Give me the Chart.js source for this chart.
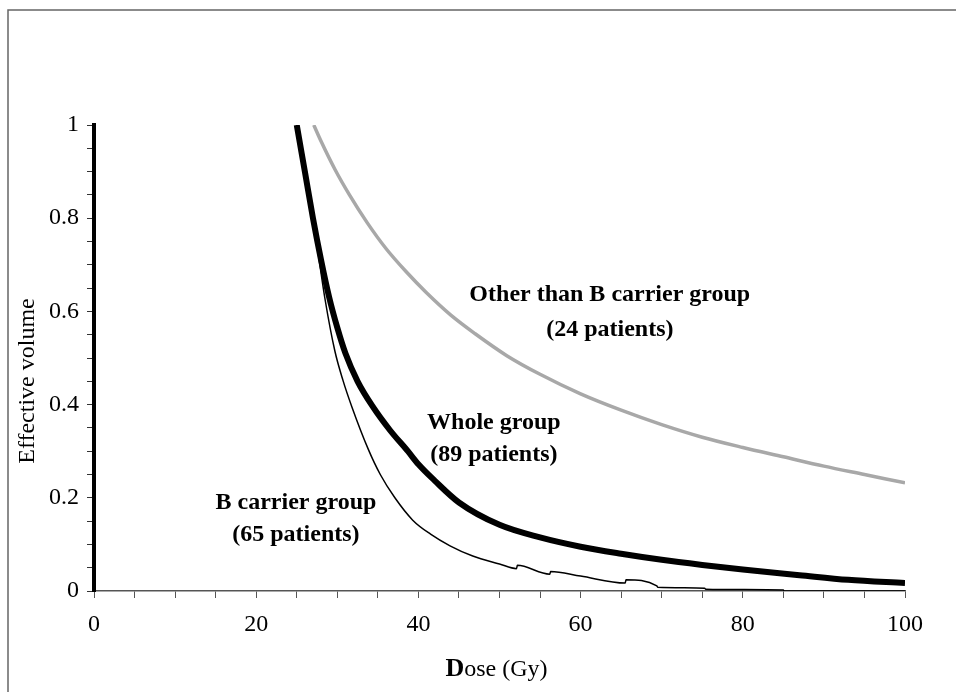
<!DOCTYPE html>
<html><head><meta charset="utf-8">
<script src="https://cdn.jsdelivr.net/npm/chart.js@4.4.1/dist/chart.umd.min.js"></script>
<style>html,body{margin:0;padding:0;background:#fff}canvas{display:block}</style>
</head><body>
<canvas id="c" width="956" height="692"></canvas>
<script>
// ---- data ----
const wholeDose = [25, 26, 27, 28, 29, 30, 31, 32.5, 34.4, 36.5, 38.7, 40, 42, 45, 50, 55, 60, 65, 70, 75, 80, 87, 93, 100];
const wholeVol  = [1.0, 0.90, 0.80, 0.71, 0.63, 0.565, 0.51, 0.45, 0.395, 0.345, 0.30, 0.272, 0.237, 0.19, 0.142, 0.115, 0.095, 0.08, 0.067, 0.056, 0.046, 0.034, 0.024, 0.017];

const bDose = [25, 26, 27, 27.6, 28.5, 29.7, 30.7, 31.8, 33.8, 35.3, 37.1, 39.3, 41.5, 43.9, 46.7, 50, 52.1, 52.2, 56.2, 56.3, 60, 65.5, 65.6, 69.4, 69.5, 75.3, 75.4, 85, 85.1, 100];
const bVol  = [1.0, 0.90, 0.80, 0.73, 0.625, 0.515, 0.452, 0.395, 0.305, 0.25, 0.20, 0.152, 0.122, 0.097, 0.075, 0.058, 0.048, 0.055, 0.036, 0.042, 0.032, 0.017, 0.024, 0.011, 0.008, 0.006, 0.004, 0.002, 0.0, 0.0];

const otherDose = [27.1, 28, 29.7, 31.5, 33.7, 36, 38.5, 41, 44, 47, 50.9, 55, 60, 65, 70, 75, 80, 85, 90, 95, 100];
const otherVol  = [1.0, 0.965, 0.905, 0.85, 0.79, 0.735, 0.685, 0.64, 0.592, 0.552, 0.505, 0.465, 0.423, 0.388, 0.357, 0.33, 0.308, 0.288, 0.268, 0.25, 0.232];

const xTickLabels = ['0', '20', '40', '60', '80', '100'];
const yTickLabels = ['0', '0.2', '0.4', '0.6', '0.8', '1'];
const seriesLabels = [
  ['Other than B carrier group', '(24 patients)'],
  ['Whole group', '(89 patients)'],
  ['B carrier group', '(65 patients)']
];
const xTitle = ['D', 'ose (Gy)'];
const yTitle = 'Effective volume';

// ---- helpers ----
function pts(xs, ys) { return xs.map((x, i) => ({ x: x, y: ys[i] })); }
const SERIF = '"Liberation Serif", "Times New Roman", serif';

// label anchors (data coordinates) for the in-plot annotations
const labelAnchors = [
  { x: 63.6, y: [0.635, 0.56] },
  { x: 49.3, y: [0.36, 0.292] },
  { x: 24.9, y: [0.189, 0.12] }
];

const decor = {
  id: 'decor',
  beforeDraw(chart) {
    const ctx = chart.ctx;
    ctx.save();
    ctx.fillStyle = '#fff';
    ctx.fillRect(0, 0, chart.width, chart.height);
    ctx.strokeStyle = '#666';
    ctx.lineWidth = 1.5;
    ctx.beginPath();
    ctx.moveTo(8, chart.height);
    ctx.lineTo(8, 10);
    ctx.lineTo(chart.width, 10);
    ctx.stroke();
    ctx.restore();
  },
  afterDraw(chart) {
    const ctx = chart.ctx;
    const xs = chart.scales.x, ys = chart.scales.y;
    const area = chart.chartArea;
    ctx.save();
    ctx.fillStyle = '#000';
    ctx.font = 'bold 24px ' + SERIF;
    ctx.textAlign = 'center';
    ctx.textBaseline = 'middle';
    labelAnchors.forEach((a, i) => {
      const px = xs.getPixelForValue(a.x);
      seriesLabels[i].forEach((t, j) => {
        ctx.fillText(t, px, ys.getPixelForValue(a.y[j]));
      });
    });
    ctx.save();
    ctx.translate(area.left - 66, (area.top + area.bottom) / 2 + 23);
    ctx.rotate(-Math.PI / 2);
    ctx.font = '24px ' + SERIF;
    ctx.textAlign = 'center';
    ctx.textBaseline = 'middle';
    ctx.fillText(yTitle, 0, 0);
    ctx.restore();
    const fB = 'bold 26px ' + SERIF, fR = '24px ' + SERIF;
    ctx.font = fB; const w1 = ctx.measureText(xTitle[0]).width;
    ctx.font = fR; const w2 = ctx.measureText(xTitle[1]).width;
    const cx = (area.left + area.right) / 2 - 3;
    const by = area.bottom + 85;
    ctx.textAlign = 'left';
    ctx.textBaseline = 'alphabetic';
    ctx.font = fB; ctx.fillText(xTitle[0], cx - (w1 + w2) / 2, by);
    ctx.font = fR; ctx.fillText(xTitle[1], cx - (w1 + w2) / 2 + w1, by);
    ctx.restore();
  }
};

new Chart(document.getElementById('c'), {
  type: 'line',
  data: {
    datasets: [
      { label: 'Whole group (89 patients)', data: pts(wholeDose, wholeVol), borderColor: '#000', borderWidth: 6, cubicInterpolationMode: 'monotone', pointRadius: 0, order: 1 },
      { label: 'B carrier group (65 patients)', data: pts(bDose, bVol), borderColor: '#000', borderWidth: 1.5, cubicInterpolationMode: 'monotone', pointRadius: 0, order: 2 },
      { label: 'Other than B carrier group (24 patients)', data: pts(otherDose, otherVol), borderColor: '#a8a8a8', borderWidth: 3.5, cubicInterpolationMode: 'monotone', pointRadius: 0, order: 3 }
    ]
  },
  options: {
    responsive: false,
    devicePixelRatio: 1,
    animation: false,
    layout: { padding: { left: 0, top: 125, right: 51, bottom: 0 } },
    plugins: { legend: { display: false }, tooltip: { enabled: false } },
    scales: {
      x: {
        type: 'linear', min: 0, max: 100,
        afterFit(s) { s.height = 101; },
        border: { display: true, color: '#555', width: 1.5 },
        grid: { drawOnChartArea: false, drawTicks: true, tickLength: 7, color: '#555', lineWidth: 1 },
        ticks: {
          stepSize: 5, autoSkip: false, maxRotation: 0, padding: 12, color: '#000',
          font: { family: SERIF, size: 24 },
          callback(v) { const k = Math.round(v / 20); return Math.abs(v - k * 20) < 1e-6 ? xTickLabels[k] : ''; }
        }
      },
      y: {
        type: 'linear', min: 0, max: 1,
        afterFit(s) { s.width = 94; },
        border: { display: true, color: '#000', width: 4 },
        grid: { drawOnChartArea: false, drawTicks: true, tickLength: 7, color: '#333', lineWidth: 1 },
        ticks: {
          stepSize: 0.05, autoSkip: false, padding: 8, color: '#000',
          font: { family: SERIF, size: 24 },
          callback(v) { const k = Math.round(v / 0.2); return Math.abs(v - k * 0.2) < 1e-6 ? yTickLabels[k] : ''; }
        }
      }
    }
  },
  plugins: [decor]
});
</script>
</body></html>
